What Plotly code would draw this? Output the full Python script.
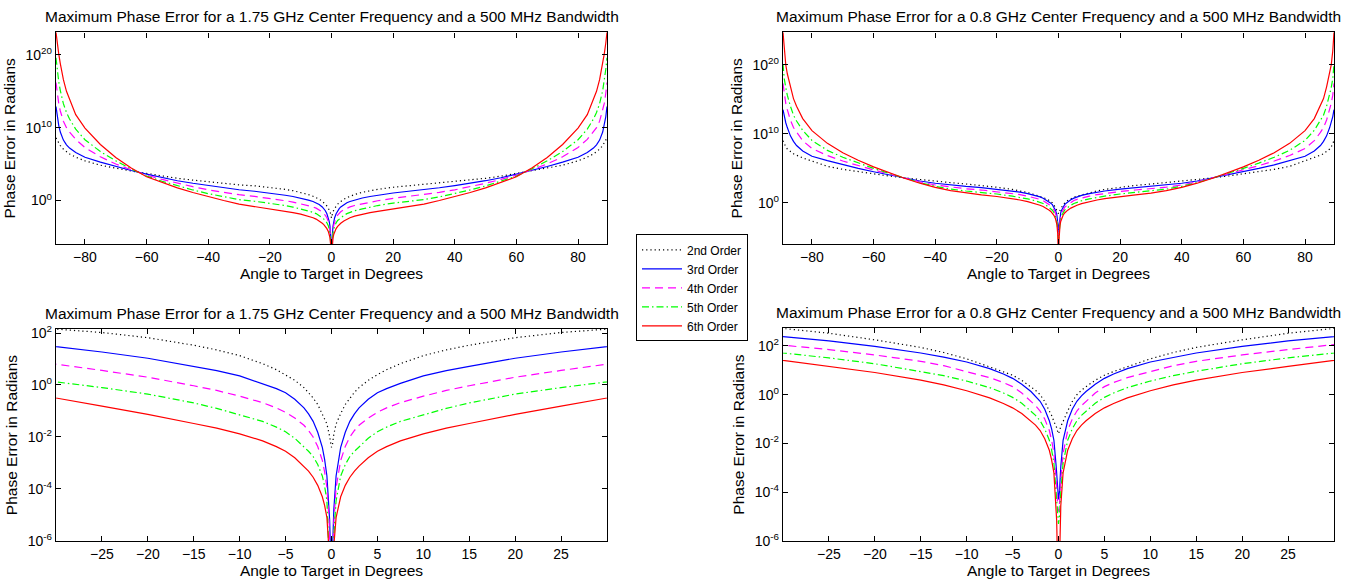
import plotly.graph_objects as go

# ---------------- data (log10 of phase error, radians) ----------------
# angles for the positive half (the curves are symmetric about 0 degrees)
angle_half = [0, 0.1, 0.2, 0.25, 0.5, 0.75, 1, 1.5, 2, 2.5, 3, 4, 5, 6, 7.5, 10, 12.5, 15,
              20, 25, 30, 35, 40, 45, 50, 55, 60, 65, 70, 75, 80,
              83, 85, 86, 87, 88, 88.5, 89, 89.4]

# 1.75 GHz centre frequency
f175_order2 = [-2.4, -2.3, -2.0, -1.9, -1.5, -1.27, -1.1, -0.75, -0.5, -0.28, -0.1, 0.18, 0.4, 0.59, 0.82, 1.13,
               1.35, 1.53, 1.82, 2.02, 2.15, 2.36, 2.58, 2.8, 3.05, 3.35, 3.72, 4.05, 4.4, 4.85, 5.45,
               5.95, 6.4, 6.7, 7.05, 7.55, 7.9, 8.25, 8.6]
f175_order3 = [-9, -6.5, -5.2, -4.8, -3.5, -2.86, -2.4, -1.82, -1.4, -1.11, -0.88, -0.55, -0.3, -0.14, 0.06, 0.35,
               0.55, 0.72, 1.03, 1.27, 1.48, 1.75, 2.05, 2.37, 2.72, 3.13, 3.62, 4.12, 4.67, 5.27, 5.95,
               6.6, 7.2, 7.65, 8.3, 9.4, 10.3, 11.5, 12.9]
f175_order4 = [-9, -7.5, -5.83, -5.3, -3.95, -3.34, -2.9, -2.37, -2.0, -1.75, -1.55, -1.27, -1.05, -0.88, -0.68, -0.43,
               -0.21, -0.03, 0.3, 0.56, 0.8, 1.12, 1.47, 1.9, 2.37, 2.9, 3.48, 4.22, 5.02, 6.0, 7.28,
               8.4, 9.4, 10.0, 10.9, 12.3, 13.3, 14.7, 16.2]
f175_order5 = [-9, -8, -6.33, -5.8, -4.45, -3.89, -3.5, -3.06, -2.75, -2.55, -2.38, -2.05, -1.8, -1.62, -1.4, -1.16,
               -0.9, -0.69, -0.35, -0.1, 0.12, 0.5, 0.94, 1.45, 2.0, 2.65, 3.35, 4.33, 5.45, 6.72, 8.35,
               9.8, 11.2, 12.1, 13.3, 15.1, 16.3, 18.0, 19.6]
f175_order6 = [-9, -8.5, -6.76, -6.2, -5.1, -4.63, -4.3, -3.86, -3.55, -3.31, -3.12, -2.8, -2.55, -2.37, -2.15, -1.88,
               -1.66, -1.48, -1.13, -0.81, -0.5, 0.0, 0.5, 1.1, 1.74, 2.45, 3.26, 4.46, 5.92, 7.7, 9.95,
               11.8, 13.9, 15.0, 16.6, 18.8, 20.1, 21.6, 23.1]

# 0.8 GHz centre frequency
f08_order2 = [-1.6, -1.5, -1.35, -1.3, -1.1, -0.85, -0.67, -0.28, 0.0, 0.18, 0.33, 0.59, 0.8, 0.95, 1.14, 1.47,
              1.73, 1.94, 2.25, 2.52, 2.72, 2.92, 3.13, 3.36, 3.61, 3.88, 4.17, 4.49, 4.85, 5.28, 6.05,
              6.5, 6.9, 7.1, 7.4, 7.8, 8.1, 8.5, 9.0]
f08_order3 = [-4.3, -4.0, -3.21, -2.95, -1.87, -1.4, -1.07, -0.6, -0.27, -0.05, 0.13, 0.43, 0.67, 0.85, 1.07, 1.34,
              1.54, 1.71, 1.98, 2.21, 2.38, 2.58, 2.83, 3.16, 3.6, 4.04, 4.5, 4.98, 5.5, 6.1, 6.75,
              7.5, 8.3, 8.9, 9.7, 10.9, 11.6, 12.5, 13.5]
f08_order4 = [-4.8, -4.5, -3.73, -3.48, -2.41, -1.86, -1.47, -1.0, -0.67, -0.45, -0.27, 0.07, 0.33, 0.5, 0.7, 0.96,
              1.19, 1.37, 1.63, 1.85, 2.03, 2.26, 2.58, 3.03, 3.6, 4.17, 4.76, 5.38, 6.05, 6.85, 7.86,
              9.0, 10.2, 10.9, 12.0, 13.5, 14.4, 15.6, 17.3]
f08_order5 = [-5.3, -5.0, -4.24, -4.0, -2.81, -2.26, -1.87, -1.4, -1.07, -0.85, -0.67, -0.35, -0.11, 0.07, 0.29, 0.56,
              0.78, 0.96, 1.27, 1.51, 1.71, 1.99, 2.39, 2.92, 3.58, 4.26, 4.98, 5.75, 6.6, 7.6, 9.04,
              10.5, 11.86, 12.7, 14.0, 15.6, 16.7, 18.0, 20.1]
f08_order6 = [-9, -7, -5.15, -4.55, -3.21, -2.67, -2.28, -1.81, -1.47, -1.25, -1.07, -0.77, -0.54, -0.36, -0.13, 0.16,
              0.4, 0.6, 0.91, 1.16, 1.41, 1.76, 2.24, 2.84, 3.56, 4.36, 5.21, 6.16, 7.26, 8.61, 10.46,
              12.2, 13.98, 15.1, 16.8, 18.7, 20.0, 22.0, 24.7]

order_names = ["2nd Order", "3rd Order", "4th Order", "5th Order", "6th Order"]
titles = ["Maximum Phase Error for a 1.75 GHz Center Frequency and a 500 MHz Bandwidth",
          "Maximum Phase Error for a 0.8 GHz Center Frequency and a 500 MHz Bandwidth"]
x_label = "Angle to Target in Degrees"
y_label = "Phase Error in Radians"
wide_xticks = [-80, -60, -40, -20, 0, 20, 40, 60, 80]
narrow_xticks = [-25, -20, -15, -10, -5, 0, 5, 10, 15, 20, 25]
wide_yexp = [0, 10, 20]
narrow_yexp = [-6, -4, -2, 0, 2]

# ---------------- styles ----------------
styles = [
    dict(color="#000000", dash="1.2px,3px"),
    dict(color="#0000FF", dash="solid"),
    dict(color="#FF00FF", dash="8px,5px"),
    dict(color="#00FF00", dash="7px,3px,1.5px,3px"),
    dict(color="#FF0000", dash="solid"),
]

FONT = "Liberation Sans, Arial, Helvetica, sans-serif"
W, H = 1364, 588


def full_x(half):
    return [-float(a) for a in reversed(half[1:])] + [float(a) for a in half]


def full_y(half):
    vals = list(reversed(half[1:])) + list(half)
    return [10.0 ** float(v) for v in vals]


xs = full_x(angle_half)
series = {
    "175": [f175_order2, f175_order3, f175_order4, f175_order5, f175_order6],
    "08": [f08_order2, f08_order3, f08_order4, f08_order5, f08_order6],
}

# panels: (axis suffix, data key, x range, y range, xticks, y exponents, pixel box l, r, t, b)
panels = [
    ("", "175", [-89.4, 89.4], [-6, 23.1], wide_xticks, wide_yexp, (56, 607, 27, 244)),
    ("2", "08", [-89.4, 89.4], [-6, 24.7], wide_xticks, wide_yexp, (783, 1334, 27, 244)),
    ("3", "175", [-30, 30], [-6, 2.15], narrow_xticks, narrow_yexp, (56, 607, 331, 548)),
    ("4", "08", [-30, 30], [-6, 2.73], narrow_xticks, narrow_yexp, (783, 1334, 330, 548)),
]

fig = go.Figure()
layout = dict(
    width=W, height=H, autosize=False,
    margin=dict(l=0, r=0, t=0, b=0),
    paper_bgcolor="white", plot_bgcolor="white",
    font=dict(family=FONT, size=14, color="black"),
    showlegend=True,
    legend=dict(x=636 / W, y=1 - 234 / H, xanchor="left", yanchor="top",
                bordercolor="black", borderwidth=1, bgcolor="white",
                font=dict(family=FONT, size=12, color="black"),
                itemwidth=40, tracegroupgap=0),
)
annotations = []

for pi, (suf, key, xr, yr, xt, ye, (l, r, t, b)) in enumerate(panels):
    xa = "x" + suf
    ya = "y" + suf
    for k in range(5):
        fig.add_trace(go.Scatter(
            x=xs, y=full_y(series[key][k]), mode="lines",
            name=order_names[k], legendgroup=order_names[k],
            showlegend=(pi == 0),
            line=dict(color=styles[k]["color"], dash=styles[k]["dash"], width=1.2),
            xaxis=xa, yaxis=ya, hoverinfo="skip",
        ))
    common = dict(showline=True, linecolor="black", linewidth=1.4, mirror="allticks",
                  ticks="inside", ticklen=5, tickwidth=1, tickcolor="black",
                  showgrid=False, zeroline=False,
                  tickfont=dict(family=FONT, size=14, color="black"))
    layout["xaxis" + suf] = dict(
        domain=[l / W, r / W], anchor=ya, range=xr,
        tickmode="array", tickvals=xt, ticktext=[("\u2212" + str(-v)) if v < 0 else str(v) for v in xt],
        title=dict(text=x_label, font=dict(family=FONT, size=15.5, color="black"), standoff=3),
        **common)
    layout["yaxis" + suf] = dict(
        domain=[1 - b / H, 1 - t / H], anchor=xa, type="log", range=yr,
        tickmode="array", tickvals=[10.0 ** e for e in ye],
        ticktext=["10<sup>%d</sup>" % e for e in ye],
        title=dict(text=y_label, font=dict(family=FONT, size=15.5, color="black"), standoff=6),
        **common)
    annotations.append(dict(
        text=titles[0] if key == "175" else titles[1],
        x=(l + r) / 2 / W, y=1 - (t - 16) / H, xref="paper", yref="paper",
        xanchor="center", yanchor="middle", showarrow=False,
        font=dict(family=FONT, size=15.5, color="black")))

layout["annotations"] = annotations
fig.update_layout(**layout)
# remove the browser's default 8px page margin so the figure sits at the window origin
fig.write_html("out.html",
               config={"displayModeBar": False},
               post_script="document.body.style.margin='0px';document.body.style.overflow='hidden';")
